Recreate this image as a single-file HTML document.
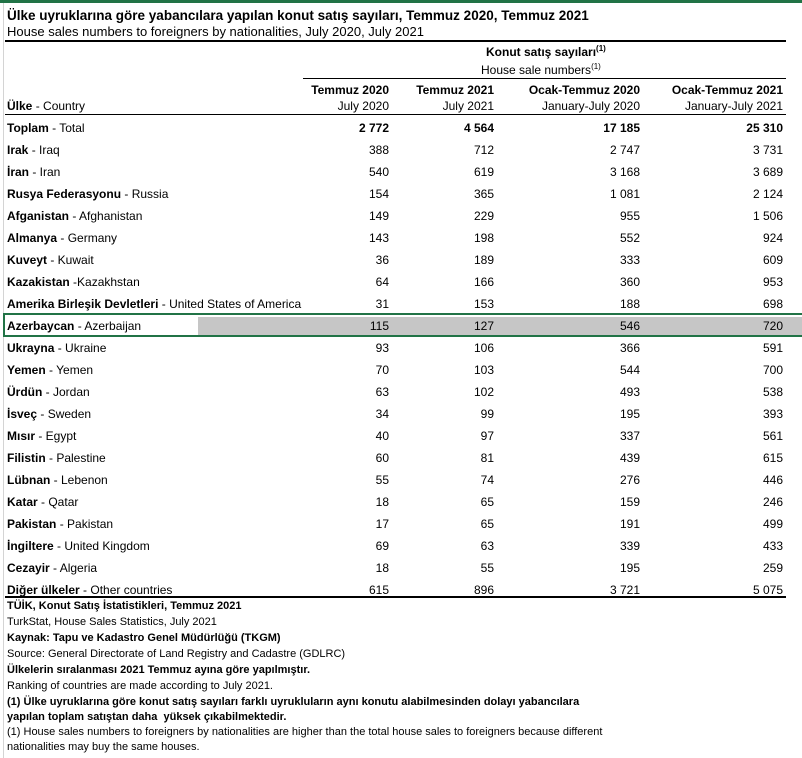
<!DOCTYPE html>
<html><head><meta charset="utf-8"><style>
body{margin:0;width:802px;height:758px;background:#fff;position:relative;overflow:hidden;font-family:"Liberation Sans",Arial,sans-serif;color:#000}
.a{position:absolute;white-space:nowrap;font-size:12px;line-height:14px}
.r{text-align:right}
.b{font-weight:bold}
.l{position:absolute;background:#000}
.n{position:absolute;white-space:nowrap;font-size:12px;line-height:14px;text-align:right}
sup{font-size:8px;line-height:0}
.f{position:absolute;left:7px;white-space:nowrap;font-size:11px;line-height:13px}
</style></head><body>
<div style="position:absolute;left:0;top:0;width:802px;height:3px;background:#217346"></div>
<div style="position:absolute;left:3px;top:3px;width:1px;height:755px;background:#d4d4d4"></div>
<div class="a b" style="left:7px;top:9px;font-size:13.5px">Ülke uyruklarına göre yabancılara yapılan konut satış sayıları, Temmuz 2020, Temmuz 2021</div>
<div class="a" style="left:7px;top:25px;font-size:13px">House sales numbers to foreigners by nationalities, July 2020, July 2021</div>
<div class="l" style="left:5px;top:40px;width:781px;height:2px"></div>
<div class="a b" style="left:486px;top:45px">Konut satış sayıları<sup>(1)</sup></div>
<div class="a" style="left:481px;top:63px">House sale numbers<sup>(1)</sup></div>
<div class="l" style="left:303px;top:78px;width:483px;height:1px"></div>
<div class="a" style="left:7px;top:99px"><b>Ülke</b> - Country</div>
<div class="n b" style="right:413px;top:83px">Temmuz 2020</div>
<div class="n" style="right:413px;top:99px">July 2020</div>
<div class="n b" style="right:308px;top:83px">Temmuz 2021</div>
<div class="n" style="right:308px;top:99px">July 2021</div>
<div class="n b" style="right:162px;top:83px">Ocak-Temmuz 2020</div>
<div class="n" style="right:162px;top:99px">January-July 2020</div>
<div class="n b" style="right:19px;top:83px">Ocak-Temmuz 2021</div>
<div class="n" style="right:19px;top:99px">January-July 2021</div>
<div class="l" style="left:5px;top:114px;width:781px;height:1px"></div>
<div style="position:absolute;left:198px;top:317px;width:604px;height:19px;background:#c6c6c6"></div>
<div style="position:absolute;left:3px;top:313px;width:799px;height:24px;border-top:2px solid #217346;border-bottom:2px solid #217346;border-left:2px solid #217346;box-sizing:border-box"></div>
<div id="rows"></div>
<div class="l" style="left:5px;top:596px;width:781px;height:2px"></div>
<div class="f b" style="top:600px">TÜİK, Konut Satış İstatistikleri, Temmuz 2021</div>
<div class="f" style="top:616px">TurkStat, House Sales Statistics, July 2021</div>
<div class="f b" style="top:632px">Kaynak: Tapu ve Kadastro Genel Müdürlüğü (TKGM)</div>
<div class="f" style="top:648px">Source: General Directorate of Land Registry and Cadastre (GDLRC)</div>
<div class="f b" style="top:664px">Ülkelerin sıralanması 2021 Temmuz ayına göre yapılmıştır.</div>
<div class="f" style="top:680px">Ranking of countries are made according to July 2021.</div>
<div class="f b" style="top:696px">(1) Ülke uyruklarına göre konut satış sayıları farklı uyrukluların aynı konutu alabilmesinden dolayı yabancılara</div>
<div class="f b" style="top:711px">yapılan toplam satıştan daha &nbsp;yüksek çıkabilmektedir.</div>
<div class="f" style="top:726px">(1) House sales numbers to foreigners by nationalities are higher than the total house sales to foreigners because different</div>
<div class="f" style="top:741px">nationalities may buy the same houses.</div>
<script>
var d=[["Toplam","Total","2 772","4 564","17 185","25 310",1],
["Irak","Iraq","388","712","2 747","3 731"],
["İran","Iran","540","619","3 168","3 689"],
["Rusya Federasyonu","Russia","154","365","1 081","2 124"],
["Afganistan","Afghanistan","149","229","955","1 506"],
["Almanya","Germany","143","198","552","924"],
["Kuveyt","Kuwait","36","189","333","609"],
["Kazakistan","Kazakhstan","64","166","360","953",2],
["Amerika Birleşik Devletleri","United States of America","31","153","188","698"],
["Azerbaycan","Azerbaijan","115","127","546","720"],
["Ukrayna","Ukraine","93","106","366","591"],
["Yemen","Yemen","70","103","544","700"],
["Ürdün","Jordan","63","102","493","538"],
["İsveç","Sweden","34","99","195","393"],
["Mısır","Egypt","40","97","337","561"],
["Filistin","Palestine","60","81","439","615"],
["Lübnan","Lebenon","55","74","276","446"],
["Katar","Qatar","18","65","159","246"],
["Pakistan","Pakistan","17","65","191","499"],
["İngiltere","United Kingdom","69","63","339","433"],
["Cezayir","Algeria","18","55","195","259"],
["Diğer ülkeler","Other countries","615","896","3 721","5 075"]];
var h="",R=[413,308,162,19];
d.forEach(function(r,i){var t=121+i*22;var sep=r[6]==2?" -":" - ";
h+='<div class="a" style="left:7px;top:'+t+'px"><b>'+r[0]+'</b>'+sep+r[1]+'</div>';
for(var k=0;k<4;k++)h+='<div class="n'+(r[6]==1?' b':'')+'" style="right:'+R[k]+'px;top:'+t+'px">'+r[2+k]+'</div>';});
document.getElementById("rows").innerHTML=h;
</script>
</body></html>
